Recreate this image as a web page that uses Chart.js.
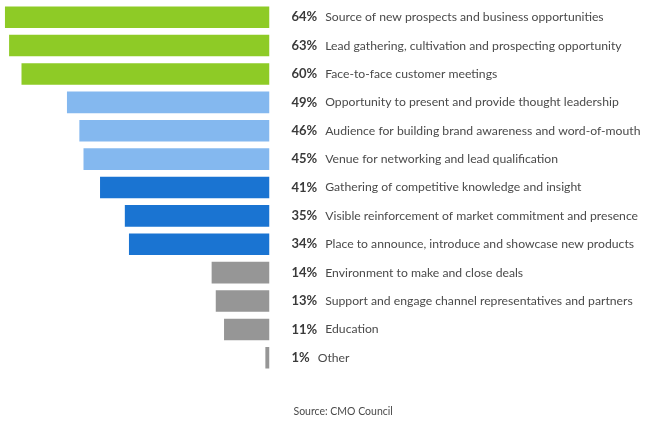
<!DOCTYPE html>
<html>
<head>
<meta charset="utf-8">
<script src="https://cdn.jsdelivr.net/npm/chart.js@4"></script>
<style>
  html, body { margin: 0; padding: 0; background: #fff; }
  #wrap { position: relative; width: 652px; height: 426px; }
</style>
</head>
<body>
<div id="wrap"><canvas id="chart" width="652" height="426"></canvas></div>
<script>
const labels = [
  "Source of new prospects and business opportunities",
  "Lead gathering, cultivation and prospecting opportunity",
  "Face-to-face customer meetings",
  "Opportunity to present and provide thought leadership",
  "Audience for building brand awareness and word-of-mouth",
  "Venue for networking and lead qualification",
  "Gathering of competitive knowledge and insight",
  "Visible reinforcement of market commitment and presence",
  "Place to announce, introduce and showcase new products",
  "Environment to make and close deals",
  "Support and engage channel representatives and partners",
  "Education",
  "Other"
];
const values = [64, 63, 60, 49, 46, 45, 41, 35, 34, 14, 13, 11, 1];
const barColors = [
  "#8ecb26", "#8ecb26", "#8ecb26",
  "#84b8ef", "#84b8ef", "#84b8ef",
  "#1a74d2", "#1a74d2", "#1a74d2",
  "#969696", "#969696", "#969696", "#969696"
];
const sourceNote = "Source: CMO Council";

const FONT = "Lato, 'Open Sans', sans-serif";

// draws "64%  Label text" to the right of each bar
const rowLabels = {
  id: "rowLabels",
  afterDatasetsDraw(chart) {
    const ctx = chart.ctx;
    const meta = chart.getDatasetMeta(0);
    const x0 = chart.chartArea.right + 22;
    ctx.save();
    ctx.textBaseline = "middle";
    meta.data.forEach((bar, i) => {
      const pct = values[i] + "%";
      ctx.font = "bold 13px " + FONT;
      ctx.fillStyle = "#3a3a3a";
      ctx.fillText(pct, x0, bar.y);
      const w = ctx.measureText(pct).width;
      ctx.font = "12.2px " + FONT;
      ctx.fillStyle = "#4a4a4a";
      ctx.fillText(labels[i], x0 + w + 8, bar.y);
    });
    ctx.font = "10.5px " + FONT;
    ctx.fillStyle = "#4a4a4a";
    ctx.fillText(sourceNote, x0 + 2, 412);
    ctx.restore();
  }
};

new Chart(document.getElementById("chart"), {
  type: "bar",
  data: {
    labels: labels,
    datasets: [{
      data: values,
      backgroundColor: barColors,
      borderWidth: 0,
      barPercentage: 0.76,
      categoryPercentage: 1
    }]
  },
  options: {
    indexAxis: "y",
    responsive: false,
    animation: false,
    layout: { padding: { left: 0, right: 382.5, top: 3, bottom: 54 } },
    scales: {
      x: { display: false, reverse: true, min: 0, max: 65.2 },
      y: { display: false }
    },
    plugins: { legend: { display: false }, tooltip: { enabled: false } }
  },
  plugins: [rowLabels]
});
</script>
</body>
</html>
